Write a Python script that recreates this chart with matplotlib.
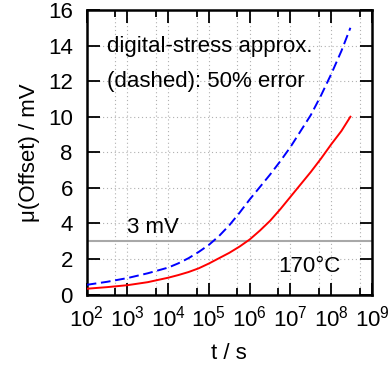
import numpy as np
import matplotlib
matplotlib.use('agg')
import matplotlib.pyplot as plt
from matplotlib.ticker import FixedLocator, LogFormatterMathtext, NullFormatter

# values: log10(t / s) and mean offset in mV
log_t = [2.0, 2.5, 3.0, 3.5, 4.0, 4.25, 4.5, 4.75, 5.0, 5.25, 5.5, 5.75,
         6.0, 6.25, 6.5, 6.75, 7.0, 7.25, 7.5, 7.75, 8.0, 8.25, 8.47]
offset_model = [0.33, 0.42, 0.53, 0.7, 0.95, 1.1, 1.27, 1.48, 1.75, 2.05, 2.35, 2.7,
                3.1, 3.6, 4.15, 4.8, 5.5, 6.2, 6.9, 7.65, 8.45, 9.2, 10.0]
offset_approx = [0.55, 0.72, 0.93, 1.2, 1.52, 1.76, 2.05, 2.4, 2.8, 3.3, 3.9, 4.6,
                 5.35, 6.05, 6.75, 7.5, 8.3, 9.2, 10.1, 11.2, 12.4, 13.7, 15.0]
limit_mv = 3
x_major = [10.0 ** k for k in range(2, 10)]
x_minor = [5 * 10.0 ** k for k in range(2, 9)]
y_major = list(range(0, 17, 2))

plt.rcParams['font.family'] = ['Liberation Sans', 'DejaVu Sans']
plt.rcParams['mathtext.fontset'] = 'custom'
plt.rcParams['mathtext.rm'] = 'Liberation Sans'
fs = 16

fig = plt.figure(figsize=(3.91, 3.69), dpi=100)
ax = fig.add_axes([0.2217, 0.2016, 0.9514 - 0.2217, 0.9729 - 0.2016])

t = 10.0 ** np.array(log_t)
ax.axhline(limit_mv, color='#a8a8a8', lw=1.5, zorder=2)
ax.plot(t, offset_model, color='red', lw=1.4, zorder=3)
ax.plot(t, offset_approx, color='blue', lw=1.4, dashes=(5, 2.4), zorder=3)

ax.set_xscale('log')
ax.set_xlim(1e2, 1e9)
ax.set_ylim(0, 16)
ax.xaxis.set_major_locator(FixedLocator(x_major))
ax.xaxis.set_minor_locator(FixedLocator(x_minor))
ax.xaxis.set_major_formatter(LogFormatterMathtext())
ax.xaxis.set_minor_formatter(NullFormatter())
ax.yaxis.set_major_locator(FixedLocator(y_major))

ax.grid(True, which='both', axis='x', color='#b0b0b0', lw=0.8, linestyle=(0, (1, 2.5)))
ax.grid(True, which='major', axis='y', color='#b0b0b0', lw=0.8, linestyle=(0, (1, 2.5)))
ax.set_axisbelow(True)

ax.tick_params(which='major', direction='in', length=9, width=1.3, top=True, right=True,
               labelsize=fs)
ax.tick_params(which='minor', direction='in', length=5, width=1.3, top=True, right=True)
ax.tick_params(axis='x', which='major', pad=8)
ax.tick_params(axis='y', which='major', pad=10)
for s in ax.spines.values():
    s.set_linewidth(1.8)

ax.set_xlabel('t / s', fontsize=fs, labelpad=8)
ax.set_ylabel('\u03bc(Offset) / mV', fontsize=fs, labelpad=6)

ax.text(0.07, 0.87, 'digital-stress approx.', transform=ax.transAxes,
        fontsize=fs, va='center', ha='left')
ax.text(0.07, 0.748, '(dashed): 50% error', transform=ax.transAxes,
        fontsize=fs, va='center', ha='left')
ax.text(0.14, 0.235, '3 mV', transform=ax.transAxes, fontsize=fs, va='center', ha='left')
ax.text(0.67, 0.098, '170\u00b0C', transform=ax.transAxes, fontsize=fs, va='center', ha='left')

fig.savefig('out.png', dpi=100)
